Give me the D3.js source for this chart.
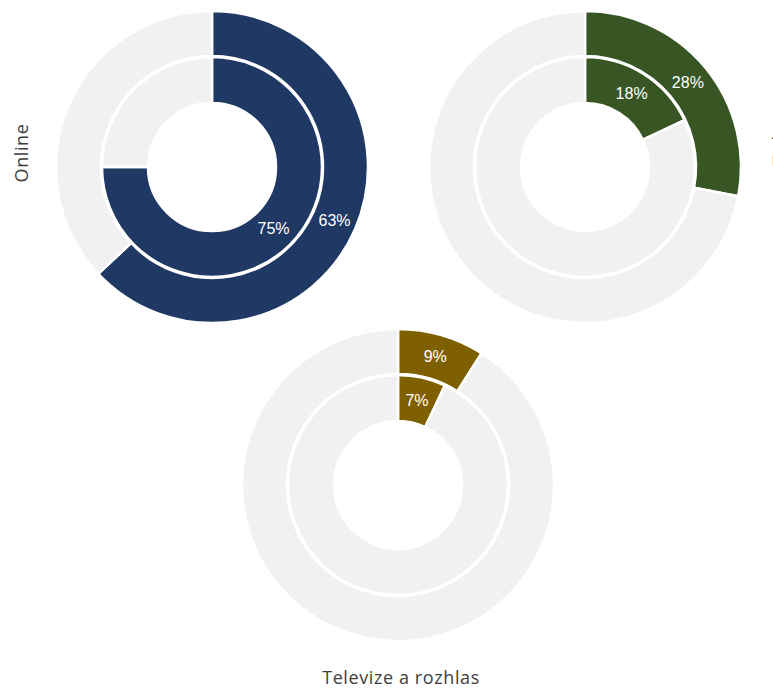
<!DOCTYPE html>
<html>
<head>
<meta charset="utf-8">
<script src="https://cdn.jsdelivr.net/npm/d3@7"></script>
<style>
  body { margin: 0; background: #fff; }
  svg { display: block; }
  .lbl { fill: #fff; font-family: "Liberation Sans", Arial, sans-serif; font-size: 16px; }
  .title { fill: #404040; font-family: "Open Sans", "Noto Sans", sans-serif; font-size: 18px; letter-spacing: 0.6px; }
</style>
</head>
<body>
<svg width="773" height="690"></svg>
<script>
// Chart data
var categories = ["Online", "Tisk", "Televize a rozhlas"];
var outerValues = [63, 28, 9];
var innerValues = [75, 18, 7];
var colors = ["#1f3864", "#375623", "#7f6000"];

var svg = d3.select("svg");

// donut centres and title placement
var layout = [
    {cx: 212, cy: 167, tx: 28, ty: 153, rot: -90},
    {cx: 585, cy: 167, tx: 769, ty: 148, rot: -90, tb: true},
    {cx: 398, cy: 485, tx: 401, ty: 684, rot: 0}
];

var pie = d3.pie().sort(null);
var outerArc = d3.arc().innerRadius(111).outerRadius(156);
var innerArc = d3.arc().innerRadius(64).outerRadius(110);

categories.forEach((name, i) => {
    var pos = layout[i];
    var g = svg.append("g")
        .attr("transform", "translate(" + pos.cx + "," + pos.cy + ")");

    var rings = [
        {value: outerValues[i], arc: outerArc},
        {value: innerValues[i], arc: innerArc}
    ];

    rings.forEach((ring) => {
        var arcs = pie([ring.value, 100 - ring.value]);

        g.selectAll(null)
            .data(arcs)
            .enter().append("path")
            .attr("d", ring.arc)
            .attr("fill", (d, j) => j === 0 ? colors[i] : "#f1f1f1")
            .attr("stroke", "#fff")
            .attr("stroke-width", 2.5);

        // percentage label at the centroid of the coloured slice
        var c = ring.arc.centroid(arcs[0]);
        g.append("text")
            .attr("class", "lbl")
            .attr("x", c[0])
            .attr("y", c[1])
            .attr("dy", "0.35em")
            .attr("text-anchor", "middle")
            .text(ring.value + "%");
    });

    // category title
    var t = svg.append("text")
        .attr("class", "title")
        .attr("text-anchor", "middle")
        .text(name);
    if (pos.rot) {
        t.attr("transform", "translate(" + pos.tx + "," + pos.ty + ") rotate(" + pos.rot + ")");
        if (pos.tb) t.attr("dy", "0.95em");
    } else {
        t.attr("x", pos.tx).attr("y", pos.ty);
    }
});
</script>
</body>
</html>
